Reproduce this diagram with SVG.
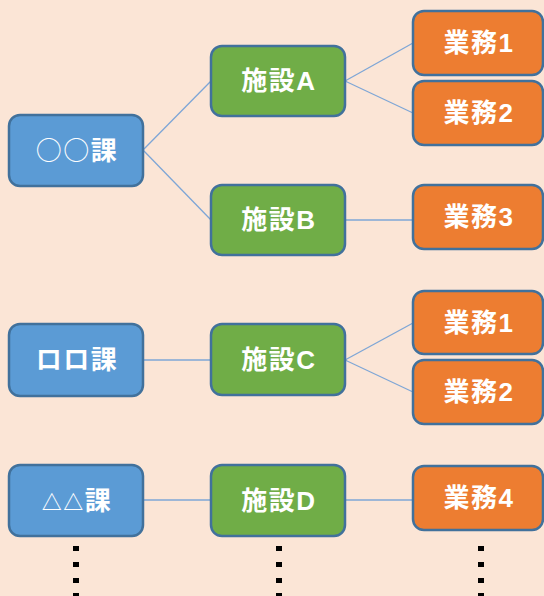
<svg xmlns="http://www.w3.org/2000/svg" width="544" height="596" viewBox="0 0 544 596">
<style>
.box{stroke:#41719C;stroke-width:2.5}
.ka{fill:#5B9BD5}
.sh{fill:#70AD47}
.gy{fill:#ED7D31}
.t{fill:#fff;font-family:"Liberation Sans","Noto Sans CJK JP",sans-serif;font-weight:700;font-size:26px;letter-spacing:1.5px;text-anchor:middle}
.cjk{font-family:"Noto Sans CJK JP",sans-serif;font-weight:400}
.tri{font-size:20px}
.ln{stroke:#7EA6D6;stroke-width:1.3;fill:none}
.dot{fill:#000}
</style>
<rect width="544" height="596" fill="#FBE5D6"/>
<g id="connectors">
<line class="ln" x1="143" y1="150" x2="211" y2="81"/>
<line class="ln" x1="143" y1="150" x2="211" y2="220"/>
<line class="ln" x1="345" y1="81" x2="413" y2="43"/>
<line class="ln" x1="345" y1="81" x2="413" y2="113"/>
<line class="ln" x1="345" y1="220" x2="413" y2="220"/>
<line class="ln" x1="143" y1="360" x2="211" y2="360"/>
<line class="ln" x1="345" y1="360" x2="413" y2="323"/>
<line class="ln" x1="345" y1="360" x2="413" y2="392"/>
<line class="ln" x1="143" y1="500" x2="211" y2="500"/>
<line class="ln" x1="345" y1="500" x2="413" y2="500"/>
</g>
<g id="ka1"><rect class="box ka" x="9" y="115" width="134" height="71" rx="11"/><text class="t" x="77" y="160"><tspan class="cjk">○○</tspan>課</text></g>
<g id="ka2"><rect class="box ka" x="9" y="324" width="134" height="72" rx="11"/><text class="t" x="77" y="369">ロロ課</text></g>
<g id="ka3"><rect class="box ka" x="9" y="465" width="134" height="71" rx="11"/><text class="t" x="77" y="510"><tspan class="tri">△△</tspan>課</text></g>
<g id="shA"><rect class="box sh" x="211" y="46" width="134" height="70" rx="11"/><text class="t" x="279" y="90">施設A</text></g>
<g id="shB"><rect class="box sh" x="211" y="185" width="134" height="70" rx="11"/><text class="t" x="279" y="229">施設B</text></g>
<g id="shC"><rect class="box sh" x="211" y="324" width="134" height="71" rx="11"/><text class="t" x="279" y="369">施設C</text></g>
<g id="shD"><rect class="box sh" x="211" y="465" width="134" height="71" rx="11"/><text class="t" x="279" y="510">施設D</text></g>
<g id="gA1"><rect class="box gy" x="413" y="11" width="130" height="64" rx="11"/><text class="t" x="479" y="52">業務1</text></g>
<g id="gA2"><rect class="box gy" x="413" y="81" width="130" height="64" rx="11"/><text class="t" x="479" y="122">業務2</text></g>
<g id="gB3"><rect class="box gy" x="413" y="185" width="130" height="64" rx="11"/><text class="t" x="479" y="226">業務3</text></g>
<g id="gC1"><rect class="box gy" x="413" y="291" width="130" height="63" rx="11"/><text class="t" x="479" y="332">業務1</text></g>
<g id="gC2"><rect class="box gy" x="413" y="360" width="130" height="64" rx="11"/><text class="t" x="479" y="401">業務2</text></g>
<g id="gD4"><rect class="box gy" x="413" y="466" width="130" height="64" rx="11"/><text class="t" x="479" y="507">業務4</text></g>
<g id="dots">
<rect class="dot" x="73" y="546" width="6" height="5"/><rect class="dot" x="73" y="562" width="6" height="5"/><rect class="dot" x="73" y="578" width="6" height="5"/><rect class="dot" x="73" y="593" width="6" height="5"/>
<rect class="dot" x="276" y="546" width="6" height="5"/><rect class="dot" x="276" y="562" width="6" height="5"/><rect class="dot" x="276" y="578" width="6" height="5"/><rect class="dot" x="276" y="593" width="6" height="5"/>
<rect class="dot" x="478" y="546" width="6" height="5"/><rect class="dot" x="478" y="562" width="6" height="5"/><rect class="dot" x="478" y="578" width="6" height="5"/><rect class="dot" x="478" y="593" width="6" height="5"/>
</g>
</svg>
